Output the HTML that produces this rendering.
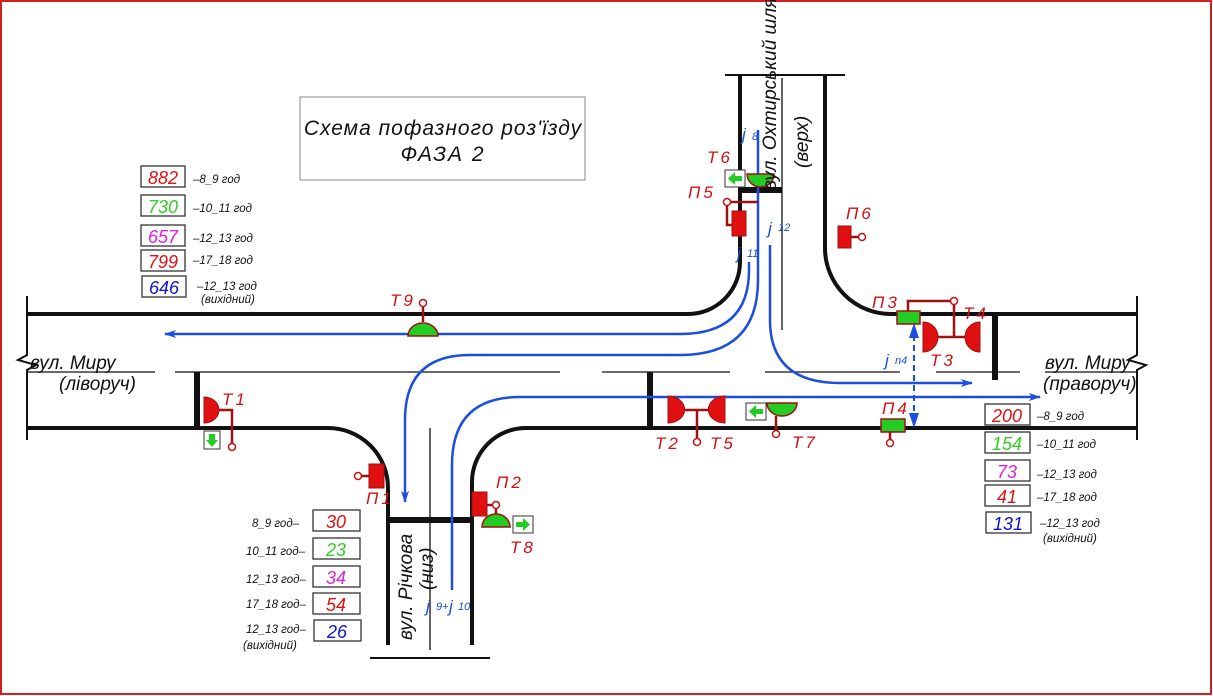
<!DOCTYPE html>
<html><head><meta charset="utf-8"><style>
html,body{margin:0;padding:0;background:#fff;}
svg{display:block;}
text{font-family:"Liberation Sans","DejaVu Sans",sans-serif;font-style:italic;}
.r{fill:#d01010;font-size:17px;letter-spacing:3px;}
.b{fill:#1a4fe0;}
.k{fill:#111;}
</style></head><body>
<svg width="1213" height="696" viewBox="0 0 1213 696" xmlns="http://www.w3.org/2000/svg">
<rect x="1" y="1" width="1210" height="693" fill="none" stroke="#d02020" stroke-width="2"/>

<rect x="300" y="97" width="285" height="83" fill="#fff" stroke="#888" stroke-width="1"/>
<text x="443" y="135" text-anchor="middle" class="k" font-size="21" letter-spacing="1">Схема пофазного роз'їзду</text>
<text x="443" y="161" text-anchor="middle" class="k" font-size="21" letter-spacing="2">ФАЗА  2</text>

<g fill="none" stroke="#111" stroke-width="4">
<path d="M27,314 H688 A52,52 0 0 0 740,262 V75"/>
<path d="M825,75 V248 A66,66 0 0 0 891,314 H1137"/>
<path d="M27,428 H328 A60,60 0 0 1 388,488 V645"/>
<path d="M472,645 V482 A54,54 0 0 1 526,428 H1137"/>
</g>
<g fill="none" stroke="#111" stroke-width="2">
<path d="M725,75 H845"/>
<path d="M370,658 H490"/>
<path d="M27,296 V355 L18,360 L36,365 L27,370 V440"/>
<path d="M1137,296 V355 L1128,360 L1146,365 L1137,370 V440"/>
</g>
<g stroke="#111" stroke-width="1.3">
<line x1="782" y1="78" x2="782" y2="330"/>
<line x1="430" y1="428" x2="430" y2="650"/>
<line x1="27" y1="372" x2="155" y2="372"/>
<line x1="175" y1="372" x2="560" y2="372"/>
<line x1="602" y1="372" x2="730" y2="372"/>
<line x1="765" y1="372" x2="900" y2="372"/>
<line x1="936" y1="372" x2="1020" y2="372"/>
<line x1="1045" y1="372" x2="1137" y2="372"/>
</g>
<g stroke="#111" stroke-width="6">
<line x1="740" y1="190" x2="782" y2="190"/>
<line x1="388" y1="520" x2="472" y2="520"/>
<line x1="197" y1="372" x2="197" y2="428"/>
<line x1="650" y1="372" x2="650" y2="428"/>
<line x1="995" y1="314" x2="995" y2="380"/>
</g>

<defs>
<marker id="ah" markerWidth="12" markerHeight="8" refX="11" refY="4" orient="auto" markerUnits="userSpaceOnUse"><path d="M0,0 L12,4 L0,8 L3,4 Z" fill="#1a4fe0"/></marker>
</defs>
<g fill="none" stroke="#1a4fe0" stroke-width="2.5">
<path d="M749,262 V270 Q749,334 680,334 H165" marker-end="url(#ah)"/>
<path d="M758,130 V280 Q758,355 680,355 H470 Q405,355 405,420 V502" marker-end="url(#ah)"/>
<path d="M452,590 V465 Q452,397 520,397 H1040" marker-end="url(#ah)"/>
<path d="M770,245 V320 Q770,383 840,383 H972" marker-end="url(#ah)"/>
<path d="M914,335 V415" stroke-width="2" stroke-dasharray="6,4"/>
</g>
<path d="M914,323 L909,338 L919,338 Z" fill="#1a4fe0"/>
<path d="M914,428 L909,413 L919,413 Z" fill="#1a4fe0"/>

<g class="b">
<text x="742" y="140" font-size="17">j</text><text x="752" y="140" font-size="11">8</text>
<text x="768" y="234" font-size="17">j</text><text x="778" y="231" font-size="11">12</text>
<text x="737" y="259" font-size="17">j</text><text x="747" y="257" font-size="11">11</text>
<text x="885" y="366" font-size="17">j</text><text x="895" y="364" font-size="11">n4</text>
<text x="426" y="612" font-size="17">j</text><text x="436" y="610" font-size="11">9+</text><text x="449" y="612" font-size="17">j</text><text x="458" y="610" font-size="11">10</text>
</g>

<g stroke="#a01010" stroke-width="2.5" fill="none">
<line x1="423" y1="306" x2="423" y2="322"/>
<path d="M218,410 H232 V445"/>
<path d="M683,410 H710 M697,410 V440"/>
<line x1="776" y1="416" x2="776" y2="432"/>
<line x1="890" y1="432" x2="890" y2="440"/>
<path d="M908,311 V301 H954 V337 M937,337 H965"/>
<line x1="851" y1="237" x2="859" y2="237"/>
<path d="M730,202 H758 M727,205 V225 H732"/>
<line x1="361" y1="476" x2="369" y2="476"/>
<path d="M487,505 H493 M496,508 V514"/>
</g>
<g stroke="#c01010" stroke-width="1.5" fill="#fff">
<circle cx="423" cy="303" r="3.5"/>
<circle cx="232" cy="447" r="3.5"/>
<circle cx="697" cy="442" r="3.5"/>
<circle cx="776" cy="434" r="3.5"/>
<circle cx="890" cy="443" r="3.5"/>
<circle cx="954" cy="301" r="3.5"/>
<circle cx="862" cy="237" r="3.5"/>
<circle cx="727" cy="202" r="3.5"/>
<circle cx="358" cy="476" r="3.5"/>
<circle cx="496" cy="505" r="3.5"/>
</g>
<g fill="#e01010" stroke="#a01010" stroke-width="1">
<path d="M204,397 A15,13 0 0 1 204,423 Z"/>
<path d="M668,396 A16,13 0 0 1 668,423 Z"/>
<path d="M725,396 A16,13 0 0 0 725,423 Z"/>
<path d="M923,322 A15,15 0 0 1 923,352 Z"/>
<path d="M980,322 A15,15 0 0 0 980,352 Z"/>
<rect x="838" y="226" width="13" height="22"/>
<rect x="732" y="211" width="14" height="25"/>
<rect x="369" y="464" width="15" height="24"/>
<rect x="472" y="492" width="15" height="24"/>
</g>
<g fill="#22cc22" stroke="#a01010" stroke-width="1.5">
<path d="M408,336 A15,13 0 0 1 438,336 Z"/>
<path d="M767,403 H797 A15,13 0 0 1 767,403 Z"/>
<path d="M747,174 H774 A13.5,13 0 0 1 747,174 Z"/>
<path d="M482,527 A14,13 0 0 1 510,527 Z"/>
<rect x="881" y="419" width="24" height="13"/>
<rect x="897" y="311" width="23" height="13"/>
</g>
<g>
<rect x="204" y="431" width="16" height="18" fill="#fff" stroke="#333" stroke-width="1"/>
<path d="M209,434 H215 V440 H218 L212,447 L206,440 H209 Z" fill="#22cc22"/>
<rect x="746" y="403" width="20" height="17" fill="#fff" stroke="#333" stroke-width="1"/>
<path d="M749,411.5 L756,405 V409 H763 V414 H756 V418 Z" fill="#22cc22"/>
<rect x="725" y="170" width="20" height="17" fill="#fff" stroke="#333" stroke-width="1"/>
<path d="M728,178.5 L735,172 V176 H742 V181 H735 V185 Z" fill="#22cc22"/>
<rect x="513" y="516" width="20" height="17" fill="#fff" stroke="#333" stroke-width="1"/>
<path d="M530,524.5 L523,518 V522 H516 V527 H523 V531 Z" fill="#22cc22"/>
</g>

<g class="r">
<text x="707" y="163">Т6</text>
<text x="688" y="198">П5</text>
<text x="846" y="219">П6</text>
<text x="872" y="308">П3</text>
<text x="963" y="319">Т4</text>
<text x="930" y="366">Т3</text>
<text x="390" y="306">Т9</text>
<text x="222" y="405">Т1</text>
<text x="655" y="449">Т2</text>
<text x="710" y="449">Т5</text>
<text x="792" y="448">Т7</text>
<text x="882" y="414">П4</text>
<text x="366" y="504">П1</text>
<text x="496" y="488">П2</text>
<text x="510" y="553">Т8</text>
</g>

<g class="k" font-size="19">
<text x="30" y="369">вул. Миру</text>
<text x="59" y="390">(ліворуч)</text>
<text x="1045" y="369">вул. Миру</text>
<text x="1043" y="390">(праворуч)</text>
<text transform="translate(776,190) rotate(-90)">вул. Охтирський шлях</text>
<text transform="translate(808,168) rotate(-90)">(верх)</text>
<text transform="translate(412,640) rotate(-90)">вул. Річкова</text>
<text transform="translate(433,590) rotate(-90)">(низ)</text>
</g>

<g stroke="#333" stroke-width="1.3" fill="#fff">
<rect x="141" y="166" width="44" height="21"/>
<rect x="141" y="195" width="44" height="21"/>
<rect x="141" y="225" width="44" height="21"/>
<rect x="141" y="250" width="44" height="21"/>
<rect x="142" y="276" width="44" height="21"/>
<rect x="985" y="404" width="45" height="21"/>
<rect x="985" y="432" width="45" height="21"/>
<rect x="985" y="460" width="45" height="21"/>
<rect x="985" y="485" width="45" height="21"/>
<rect x="986" y="512" width="45" height="21"/>
<rect x="313" y="510" width="47" height="21"/>
<rect x="313" y="538" width="47" height="21"/>
<rect x="313" y="566" width="47" height="21"/>
<rect x="313" y="593" width="47" height="21"/>
<rect x="314" y="620" width="47" height="21"/>
</g>
<g font-size="18" text-anchor="middle">
<text x="163" y="184" fill="#e01010">882</text>
<text x="163" y="213" fill="#33cc22">730</text>
<text x="163" y="243" fill="#e020e0">657</text>
<text x="163" y="268" fill="#e01010">799</text>
<text x="164" y="294" fill="#1010d0">646</text>
<text x="1007" y="422" fill="#e01010">200</text>
<text x="1007" y="450" fill="#33cc22">154</text>
<text x="1007" y="478" fill="#e020e0">73</text>
<text x="1007" y="503" fill="#e01010">41</text>
<text x="1008" y="530" fill="#1010d0">131</text>
<text x="336" y="528" fill="#e01010">30</text>
<text x="336" y="556" fill="#33cc22">23</text>
<text x="336" y="584" fill="#e020e0">34</text>
<text x="336" y="611" fill="#e01010">54</text>
<text x="337" y="638" fill="#1010d0">26</text>
</g>
<g class="k" font-size="11.5">
<text x="193" y="183">–8_9  год</text>
<text x="193" y="212">–10_11  год</text>
<text x="193" y="242">–12_13  год</text>
<text x="193" y="264">–17_18  год</text>
<text x="197" y="290">–12_13  год</text>
<text x="201" y="303">(вихідний)</text>
<text x="1037" y="420">–8_9  год</text>
<text x="1037" y="448">–10_11  год</text>
<text x="1037" y="478">–12_13  год</text>
<text x="1037" y="501">–17_18  год</text>
<text x="1040" y="527">–12_13  год</text>
<text x="1043" y="542">(вихідний)</text>
<text x="252" y="527">8_9  год–</text>
<text x="246" y="555">10_11  год–</text>
<text x="246" y="583">12_13  год–</text>
<text x="246" y="608">17_18  год–</text>
<text x="246" y="633">12_13  год–</text>
<text x="243" y="649">(вихідний)</text>
</g>
</svg>
</body></html>
